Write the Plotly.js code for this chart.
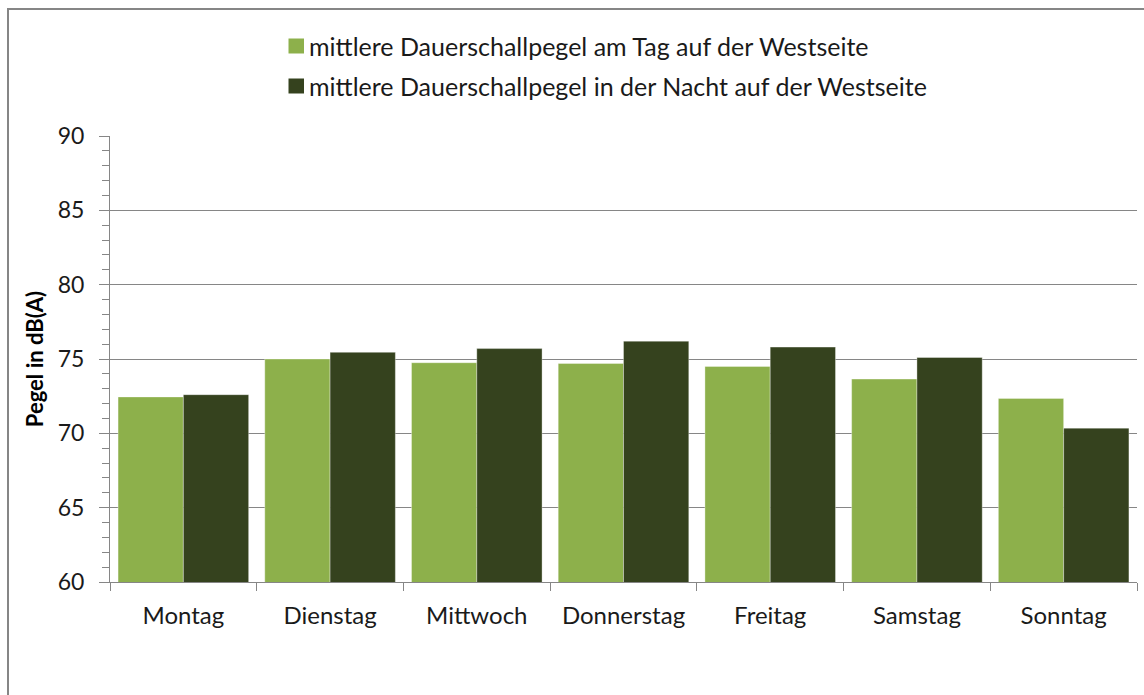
<!DOCTYPE html>
<html>
<head>
<meta charset="utf-8">
<script src="https://cdn.plot.ly/plotly-3.0.1.min.js"></script>
<style>
html,body{margin:0;padding:0;background:#fff;}
#wrap{position:relative;width:1144px;height:695px;overflow:hidden;}
#frame{position:absolute;left:7px;top:8px;width:1200px;height:800px;border-left:2px solid #868686;border-top:2px solid #868686;pointer-events:none;}
#chart{position:absolute;left:0;top:0;width:1144px;height:695px;}
</style>
</head>
<body>
<div id="wrap">
<div id="chart"></div>
<div id="frame"></div>
</div>
<script>
const categories = ["Montag","Dienstag","Mittwoch","Donnerstag","Freitag","Samstag","Sonntag"];
const dayValues = [72.45, 75.0, 74.75, 74.7, 74.5, 73.65, 72.35];
const nightValues = [72.6, 75.45, 75.7, 76.2, 75.8, 75.1, 70.35];
const seriesNames = ["mittlere Dauerschallpegel am Tag auf der Westseite","mittlere Dauerschallpegel in der Nacht auf der Westseite"];
const seriesColors = ['#8DB04B', '#35421E'];
const yTitle = "Pegel in dB(A)";

const font = "Lato, 'Open Sans', sans-serif";
const M = {l:110, r:7, t:136, b:113};
const W = 1144, H = 695;
const pw = W - M.l - M.r, ph = H - M.t - M.b;
const px2x = p => (p - M.l) / pw;
const py2y = p => (H - M.b - p) / ph;

const traces = seriesNames.map((n, i) => ({
  type:'bar', x:categories, y:[dayValues, nightValues][i], name:n,
  marker:{color:seriesColors[i], line:{color:'rgba(255,255,255,0.35)', width:1}}
}));

// custom legend (squares + text)
const legendRowsY = [46, 86];
const shapes = [], annotations = [];
seriesNames.forEach((n, i) => {
  const cy = legendRowsY[i];
  shapes.push({type:'rect', xref:'paper', yref:'paper',
    x0:px2x(288.5), x1:px2x(304), y0:py2y(cy+7.5), y1:py2y(cy-7.5),
    fillcolor:seriesColors[i], line:{width:0}});
  annotations.push({xref:'paper', yref:'paper', x:px2x(307), y:py2y(cy),
    xanchor:'left', yanchor:'middle', showarrow:false, text:n,
    font:{family:font, size:25, color:'#1a1a1a'}});
});

const layout = {
  width:W, height:H, margin:M,
  paper_bgcolor:'rgba(0,0,0,0)', plot_bgcolor:'#fff',
  barmode:'group', bargap:0.11, bargroupgap:0,
  font:{family:font, size:21, color:'#1a1a1a'},
  showlegend:false, shapes:shapes, annotations:annotations,
  xaxis:{type:'category', showline:true, linecolor:'#868686', linewidth:1,
         ticks:'outside', tickson:'boundaries', ticklen:8, tickcolor:'#868686',
         ticklabelstandoff:12,
         showgrid:false, tickfont:{family:font, size:24, color:'#1a1a1a'}, fixedrange:true},
  yaxis:{range:[60,90], dtick:5, tick0:60, showline:true, linecolor:'#868686', linewidth:1,
         ticks:'outside', ticklen:10, tickcolor:'#868686', ticklabelstandoff:10,
         showgrid:true, gridcolor:'#868686', gridwidth:1,
         minor:{ticks:'outside', dtick:1, ticklen:7, tickcolor:'#868686', showgrid:false},
         tickfont:{family:font, size:23, color:'#1a1a1a'},
         title:{text:'<b>'+yTitle+'</b>', font:{family:font, size:22, color:'#000'}, standoff:8},
         zeroline:false, fixedrange:true}
};
Plotly.newPlot('chart', traces, layout, {displayModeBar:false, staticPlot:true});
</script>
</body>
</html>
